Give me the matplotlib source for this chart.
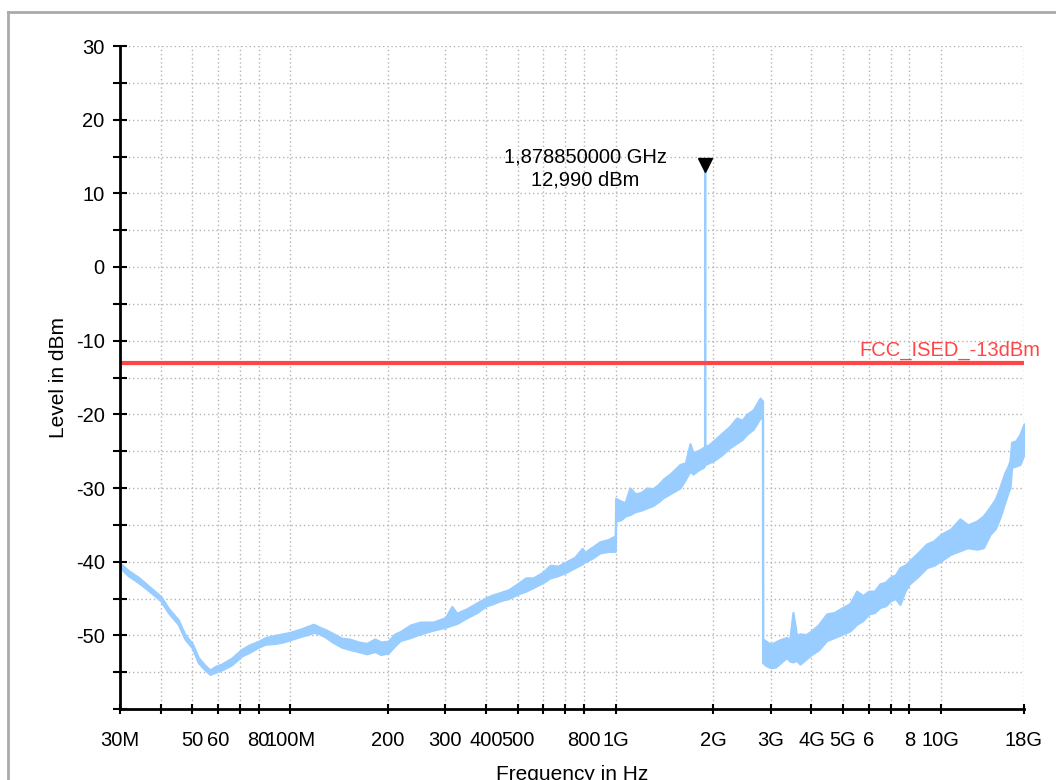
import matplotlib
matplotlib.use("Agg")
import matplotlib.pyplot as plt
import matplotlib.ticker as mticker
import matplotlib.transforms as mtrans
from matplotlib.lines import Line2D
import numpy as np

plt.rcParams['font.family'] = ['Liberation Sans', 'DejaVu Sans']

freq_mhz = [30, 31.8, 34.1, 36.7, 40, 42.2, 45.3, 47.5, 50, 52.2, 54.5, 56.7, 59, 61.6,
            66.1, 71, 75, 80, 84, 89.8, 95, 100, 108.5, 113, 118, 123, 128, 136, 144,
            152, 162, 172, 182, 190, 200, 210, 218, 234, 251, 275, 300, 314, 325, 349,
            375, 400, 420, 442, 470, 500, 530, 559, 600, 629, 665, 700, 750, 790, 800,
            850, 896, 950, 998, 1001, 1040, 1070, 1107, 1150, 1200, 1247, 1300, 1350,
            1402, 1480, 1578, 1640, 1694, 1730, 1777, 1820, 1861, 1877.5, 1878.85,
            1880.2, 1930, 2000, 2120, 2248, 2356, 2450, 2530, 2650, 2781, 2829, 2831,
            2900, 3000, 3100, 3200, 3357, 3430, 3510, 3600, 3690, 3850, 4000, 4200,
            4455, 4700, 5000, 5250, 5508, 5750, 6000, 6250, 6496, 6750, 7000, 7250,
            7485, 7750, 8000, 8500, 9040, 9500, 10000, 10700, 11440, 12100, 12880,
            13500, 14150, 14700, 15180, 15700, 16100, 16300, 16490, 17000, 17500, 18000]
level_lo = [-40.8, -41.9, -42.8, -43.9, -45.3, -46.9, -48.5, -50.5, -51.7, -53.7, -54.6,
            -55.3, -55.0, -54.7, -54.0, -52.8, -52.3, -51.6, -51.2, -51.1, -50.9, -50.6,
            -50.1, -49.9, -49.6, -49.8, -50.2, -51.0, -51.6, -51.9, -52.2, -52.5, -52.2,
            -52.6, -52.4, -51.4, -50.7, -50.3, -49.8, -49.3, -48.9, -48.6, -48.4, -47.6,
            -46.9, -46.0, -45.7, -45.3, -45.0, -44.4, -44.0, -43.5, -42.8, -42.2, -41.9,
            -41.5, -40.8, -40.3, -40.1, -39.5, -38.8, -38.6, -38.6, -34.5, -34.3, -33.8,
            -33.6, -33.2, -33.0, -32.7, -32.4, -31.9, -31.3, -30.7, -30.0, -28.8, -27.7,
            -28.1, -27.7, -27.4, -27.2, -26.9, -26.9, -26.8, -26.6, -26.3, -25.5, -24.5,
            -23.9, -23.4, -22.7, -22.0, -20.5, -20.5, -53.7, -54.1, -54.4, -54.3, -53.8,
            -53.0, -53.5, -53.6, -53.4, -53.9, -53.2, -52.6, -52.0, -50.7, -50.3, -49.8,
            -49.4, -48.5, -48.0, -47.1, -46.9, -46.2, -46.0, -45.3, -45.0, -45.8, -44.0,
            -43.0, -42.0, -40.8, -40.5, -39.9, -39.0, -38.5, -38.1, -38.3, -38.1, -36.3,
            -35.5, -34.0, -32.0, -30.5, -30.0, -27.2, -27.0, -26.8, -25.4]
level_hi = [-40.2, -41.2, -42.1, -43.3, -44.7, -46.3, -47.9, -49.9, -51.1, -53.0, -54.0,
            -54.7, -54.2, -53.9, -53.1, -51.9, -51.3, -50.8, -50.3, -50.0, -49.8, -49.6,
            -49.1, -48.8, -48.5, -48.9, -49.2, -49.8, -50.4, -50.5, -50.9, -51.1, -50.5,
            -50.9, -50.8, -49.8, -49.5, -48.6, -48.2, -48.2, -47.6, -46.1, -47.0, -46.4,
            -45.6, -44.9, -44.5, -44.2, -43.8, -43.0, -42.2, -42.2, -41.4, -40.5, -40.6,
            -40.1, -39.4, -38.2, -38.8, -38.0, -37.3, -37.0, -36.5, -31.4, -31.8, -32.0,
            -30.0, -30.8, -30.6, -30.0, -30.1, -29.6, -28.8, -28.0, -26.8, -26.6, -24.0,
            -25.2, -25.0, -24.8, -24.5, -24.4, 12.99, -24.3, -24.2, -23.6, -22.6, -21.6,
            -20.5, -20.8, -20.0, -19.4, -17.8, -18.2, -50.5, -50.8, -51.2, -50.9, -50.6,
            -50.3, -50.6, -46.9, -50.0, -49.8, -49.9, -49.4, -48.6, -47.1, -46.9, -46.2,
            -45.7, -44.0, -44.6, -44.0, -44.0, -43.0, -42.8, -42.1, -41.8, -40.8, -40.5,
            -39.9, -38.8, -37.6, -37.2, -36.3, -35.6, -34.2, -35.0, -34.5, -33.8, -32.6,
            -31.5, -29.9, -28.0, -27.0, -26.3, -23.8, -23.6, -22.7, -21.3]

peak_mhz = 1878.85
peak_dbm = 12.99
limit_dbm = -13

tick_mhz = [30, 40, 50, 60, 70, 80, 100, 200, 300, 400, 500, 600, 700, 800, 1000,
            2000, 3000, 4000, 5000, 6000, 7000, 8000, 10000, 18000]
tick_labels = ['30M', '', '50', '60', '', '80', '100M', '200', '300', '400', '500', '',
               '', '800', '1G', '2G', '3G', '4G', '5G', '6', '', '8', '10G', '18G']
ytick_vals = [-60, -50, -40, -30, -20, -10, 0, 10, 20, 30]
ytick_labels = ['', '-50', '-40', '-30', '-20', '-10', '0', '10', '20', '30']

bleu = '#99ccff'
rouge = '#ff4646'

fig = plt.figure(figsize=(10.56, 7.80), dpi=100)
ax = fig.add_axes([120/1056, 71/780, 904/1056, 663/780])

f_hz = np.array(freq_mhz) * 1e6
ax.fill_between(f_hz, level_lo, level_hi, facecolor=bleu, edgecolor=bleu, lw=1.6, zorder=3)

ax.plot([30e6, 18e9], [limit_dbm, limit_dbm], color=rouge, lw=3, zorder=4)
ax.annotate('FCC_ISED_-13dBm', xy=(18e9, limit_dbm), xytext=(12, 2),
            textcoords='offset points', ha='right', va='bottom', color=rouge,
            fontsize=14.5, annotation_clip=False, zorder=5)

# marqueur du pic
decal = mtrans.offset_copy(ax.transData, fig=fig, x=0, y=6, units='dots')
ax.plot([peak_mhz*1e6], [peak_dbm], marker='v', color='black', ms=10,
        transform=decal, zorder=6, clip_on=False)
txt_pic = (f'{peak_mhz/1000:.9f} GHz\n{peak_dbm:.3f} dBm').replace('.', ',')
ax.annotate(txt_pic, xy=(peak_mhz*1e6, peak_dbm), xytext=(-86, 2),
            textcoords='offset points', ha='center', va='center', fontsize=14.5,
            linespacing=1.25, zorder=6)

ax.set_xscale('log')
ax.set_xlim(30e6, 18e9)
ax.set_ylim(-60, 30)

ax.xaxis.set_major_locator(mticker.FixedLocator([t*1e6 for t in tick_mhz]))
ax.xaxis.set_major_formatter(mticker.FixedFormatter(tick_labels))
ax.xaxis.set_minor_locator(mticker.NullLocator())
ax.yaxis.set_major_locator(mticker.FixedLocator(ytick_vals))
ax.yaxis.set_major_formatter(mticker.FixedFormatter(ytick_labels))
ax.yaxis.set_minor_locator(mticker.MultipleLocator(5))

ax.tick_params(axis='both', which='both', direction='inout', width=1.5, color='black',
               labelsize=14.5)
ax.tick_params(axis='x', which='major', length=7, pad=12)
ax.tick_params(axis='y', which='both', length=10, pad=6)

ax.grid(True, which='both', axis='both', color='#b4b4b4', ls=(0, (1, 2)), lw=1)
ax.set_axisbelow(True)

for s in ['top', 'right']:
    ax.spines[s].set_visible(False)
for s in ['left', 'bottom']:
    ax.spines[s].set_linewidth(2)
    ax.spines[s].set_zorder(7)

ax.set_ylabel('Level in dBm', fontsize=15)
ax.yaxis.set_label_coords(-0.057, 0.5)
ax.set_xlabel('Frequency in Hz', fontsize=15)
ax.xaxis.set_label_coords(0.5, -0.085)

# cadre gris
fig.add_artist(Line2D([8/1056, 8/1056], [0, 1 - 12/780], transform=fig.transFigure,
                      color='#aaaaaa', lw=2))
fig.add_artist(Line2D([8/1056, 1], [1 - 12/780, 1 - 12/780], transform=fig.transFigure,
                      color='#aaaaaa', lw=2))

fig.savefig('out.png', dpi=100)
